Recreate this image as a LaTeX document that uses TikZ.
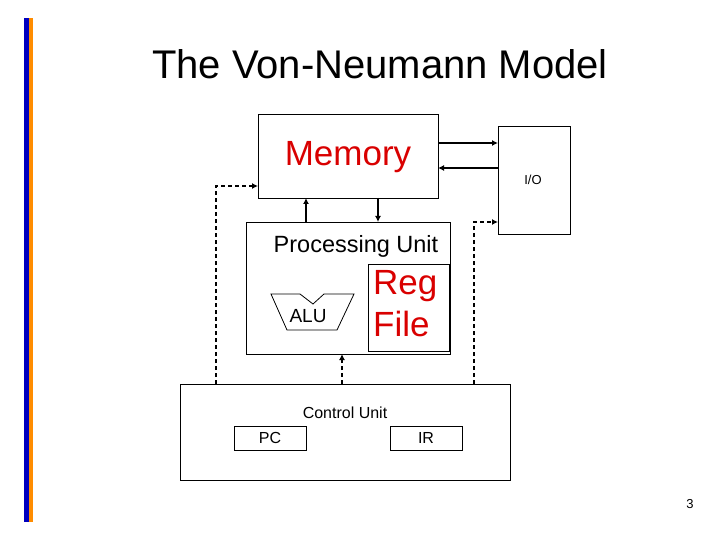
\documentclass[tikz,border=0pt]{standalone}
\usepackage{fontspec}
\setmainfont{Liberation Sans}
\usetikzlibrary{arrows.meta}
\begin{document}
\begin{tikzpicture}[x=1pt,y=-1pt,
  box/.style={draw,line width=0.8pt},
  sol/.style={line width=1.4pt,-{Latex[length=6pt,width=6pt]}},
  dsh/.style={line width=1.4pt,dash pattern=on 4pt off 3pt,-{Latex[length=6pt,width=6pt]}}]
\useasboundingbox (0,0) rectangle (720,540);
\fill[blue!75!black] (24,18) rectangle (29,522);
\fill[orange!90!yellow] (29,18) rectangle (33,522);
\node[font=\fontsize{40}{44}\selectfont] (title) at (380,64) {The Von-Neumann Model};
\draw[box] (258,114) rectangle (438,198);
\node[text=red!85!black,font=\fontsize{35}{38}\selectfont] (memt) at (348,157) {Memory};
\draw[box] (498,126) rectangle (570,234);
\node[font=\fontsize{13}{15}\selectfont] (io) at (533,180) {I/O};
\draw[box] (246,222) rectangle (450,354);
\node[font=\fontsize{23.5}{26}\selectfont] (pu) at (356,246) {Processing Unit};
\draw[box] (368,264) rectangle (449,351);
\node[text=red!85!black,align=left,anchor=north west,font=\fontsize{35}{42}\selectfont,inner sep=0pt] (rf) at (373,270) {Reg\\File};
\draw[box] (271,294) -- (300,294) -- (313,304) -- (324,294) -- (354,294) -- (337,330) -- (287,330) -- cycle;
\node[font=\fontsize{19}{21}\selectfont] (alu) at (308,316) {ALU};
\draw[box] (180,384) rectangle (510,480);
\node[font=\fontsize{16}{18}\selectfont] (cu) at (345,413) {Control Unit};
\draw[box] (234,426) rectangle (306,450); \node[font=\fontsize{16}{18}\selectfont] (pc) at (270,438) {PC};
\draw[box] (390,426) rectangle (462,450); \node[font=\fontsize{16}{18}\selectfont] (ir) at (426,438) {IR};
\node[font=\fontsize{13}{15}\selectfont] (pg) at (690,504) {3};
\coordinate (a1) at (438,143); \coordinate (a2) at (498,143);
\draw[sol] (a1) -- (a2);
\coordinate (b1) at (498,168); \coordinate (b2) at (438,168);
\draw[sol] (b1) -- (b2);
\coordinate (c1) at (306,222); \coordinate (c2) at (306,198);
\draw[sol] (c1) -- (c2);
\coordinate (d1) at (378,198); \coordinate (d2) at (378,222);
\draw[sol] (d1) -- (d2);
\coordinate (e1) at (216,384); \coordinate (e2) at (258,186);
\draw[dsh] (e1) |- (e2);
\coordinate (f1) at (474,384); \coordinate (f2) at (498,222);
\draw[dsh] (f1) |- (f2);
\coordinate (g1) at (342,384); \coordinate (g2) at (342,354);
\draw[dsh] (g1) -- (g2);
\end{tikzpicture}
\end{document}
